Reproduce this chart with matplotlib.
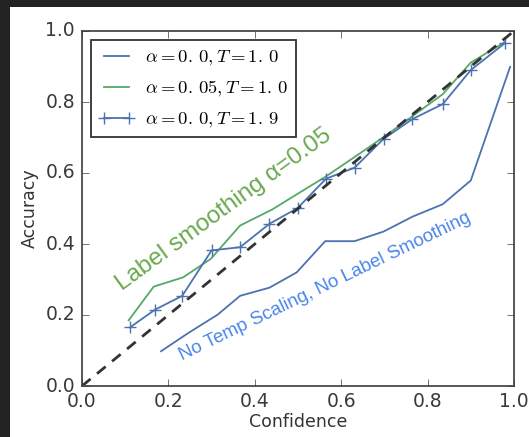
import matplotlib
matplotlib.use('Agg')
import matplotlib.pyplot as plt
from matplotlib.patches import Rectangle

plt.style.use('classic')

# bin centres / accuracy
conf_t1 = [0.183, 0.247, 0.314, 0.366, 0.434, 0.497, 0.563, 0.631, 0.698, 0.765, 0.835, 0.900, 0.991]
acc_t1 = [0.098, 0.150, 0.201, 0.254, 0.277, 0.320, 0.408, 0.408, 0.435, 0.477, 0.512, 0.579, 0.899]

conf_ls = [0.108, 0.166, 0.234, 0.298, 0.366, 0.440, 0.500, 0.563, 0.631, 0.698, 0.765, 0.835, 0.900, 0.979]
acc_ls = [0.185, 0.280, 0.306, 0.358, 0.452, 0.497, 0.542, 0.589, 0.645, 0.701, 0.760, 0.822, 0.911, 0.969]

conf_t19 = [0.111, 0.169, 0.232, 0.300, 0.366, 0.434, 0.499, 0.565, 0.631, 0.698, 0.765, 0.835, 0.900, 0.979]
acc_t19 = [0.165, 0.215, 0.254, 0.382, 0.391, 0.457, 0.501, 0.584, 0.615, 0.696, 0.752, 0.794, 0.890, 0.966]

labels = [r'$\alpha=0.\,0, T=1.\,0$', r'$\alpha=0.\,05, T=1.\,0$', r'$\alpha=0.\,0, T=1.\,9$']
ticks = [0.0, 0.2, 0.4, 0.6, 0.8, 1.0]

fig = plt.figure(figsize=(5.29, 4.37), dpi=100, facecolor='#222222')
# white page on the dark screenshot border
fig.patches.append(Rectangle((10 / 529, 0), 519 / 529, 430 / 437, transform=fig.transFigure,
                             facecolor='white', edgecolor='none', zorder=-1))
ax = fig.add_axes([82 / 529, 51 / 437, 432 / 529, 355 / 437])

ax.plot(conf_t1, acc_t1, color='#4c72b0', lw=1.3, label=labels[0])
ax.plot(conf_ls, acc_ls, color='#55a868', lw=1.3, label=labels[1])
ax.plot(conf_t19, acc_t19, color='#4c72b0', lw=1.3, marker='+', ms=8, mew=1.0, label=labels[2])
ax.plot([0, 1], [0, 1], color='#333333', lw=2, ls='--', dashes=(8, 6))

ax.set_xlim(0, 1)
ax.set_ylim(0, 1)
ax.set_xticks(ticks)
ax.set_yticks(ticks)
ax.tick_params(labelsize=13.5, colors='#3a3a3a', length=5)
ax.tick_params(axis='y', pad=5)
for s in ax.spines.values():
    s.set_color('#4a4a4a')
    s.set_linewidth(1.3)
ax.set_xlabel('Confidence', fontsize=12.5, color='#333333', labelpad=2)
ax.set_ylabel('Accuracy', fontsize=12.5, color='#333333', labelpad=5)

leg = ax.legend(loc='upper left', fontsize=13.4, numpoints=2, borderaxespad=0.5,
                handletextpad=0.6, labelspacing=0.55, handlelength=1.9)
leg.get_frame().set_edgecolor('#333333')
leg.get_frame().set_linewidth(1.3)

ax.text(0.093, 0.268, 'Label smoothing \u03b1=0.05', color='#6aa84f', fontsize=17.5,
        family='Liberation Sans', rotation=36, rotation_mode='anchor',
        ha='left', va='baseline')
ax.text(0.232, 0.073, 'No Temp Scaling, No Label Smoothing', color='#4a86e8', fontsize=13.5,
        family='Liberation Sans', rotation=25.7, rotation_mode='anchor',
        ha='left', va='baseline')

fig.savefig('out.png', dpi=100, facecolor=fig.get_facecolor())
